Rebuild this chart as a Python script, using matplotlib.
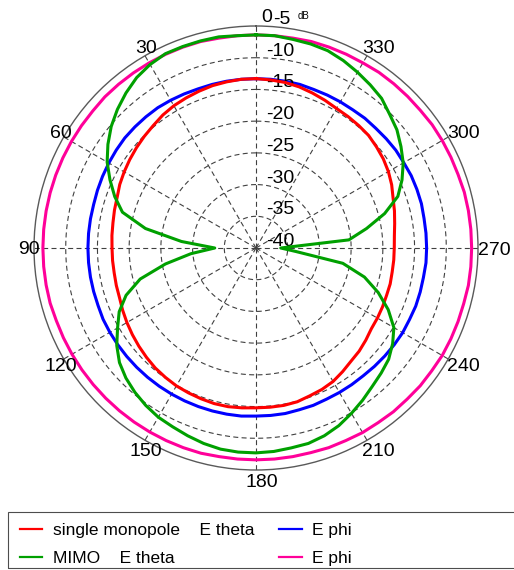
import numpy as np
import matplotlib
matplotlib.use('Agg')
import matplotlib.pyplot as plt
from matplotlib.transforms import offset_copy
from matplotlib.patches import Rectangle

plt.rcParams['font.family'] = ['Liberation Sans', 'DejaVu Sans']

# angles (deg), measured from the top, counter-clockwise, every 5 deg
ang = np.arange(0, 360, 5)

# single monopole, E theta (dB)
mono_theta = [-13.3, -13.3, -13.4, -13.5, -13.7, -13.9, -14.1, -14.4, -14.8, -15.1,
              -15.4, -15.7, -16.0, -16.3, -16.7, -16.9, -17.1, -17.2, -17.3, -17.3,
              -17.3, -17.2, -17.1, -16.8, -16.5, -16.2, -15.9, -15.6, -15.3, -15.1,
              -14.9, -14.8, -14.7, -14.6, -14.6, -14.7, -14.8, -14.8, -14.8, -14.9,
              -15.2, -15.4, -15.7, -16.2, -16.7, -17.0, -17.4, -17.8, -17.9, -18.0,
              -18.1, -18.1, -18.2, -18.2, -18.2, -18.1, -17.8, -17.4, -17.0, -16.4,
              -15.9, -15.5, -15.2, -14.9, -14.8, -14.7, -14.6, -14.3, -14.0, -13.7,
              -13.5, -13.4]

# MIMO, E theta (dB)
mimo_theta = [-6.4, -6.4, -6.2, -6.2, -6.2, -6.2, -6.6, -7.2, -8.1, -9.1,
              -10.2, -11.5, -12.9, -14.6, -16.3, -18.2, -22.3, -28.2, -33.5, -29.7,
              -25.5, -21.1, -18.2, -16.2, -14.8, -13.2, -11.9, -11.0, -10.3, -9.7,
              -9.2, -8.9, -8.5, -8.1, -7.8, -7.7, -7.7, -7.8, -8.0, -8.1,
              -8.5, -9.1, -9.9, -10.7, -11.5, -12.1, -12.7, -13.7, -14.9, -17.0,
              -19.5, -22.3, -26.1, -33.7, -36.1, -25.3, -22.3, -19.0, -16.2, -14.6,
              -13.2, -12.1, -11.0, -10.2, -9.2, -8.6, -8.0, -7.4, -6.9, -6.7,
              -6.6, -6.4]

# single monopole, E phi (dB)
mono_phi = [-13.3, -13.3, -13.3, -13.3, -13.3, -13.2, -13.1, -13.0, -13.0, -13.0,
            -13.0, -13.1, -13.2, -13.3, -13.4, -13.5, -13.5, -13.5, -13.5, -13.5,
            -13.5, -13.5, -13.5, -13.4, -13.4, -13.4, -13.4, -13.4, -13.4, -13.4,
            -13.4, -13.4, -13.4, -13.4, -13.4, -13.4, -13.5, -13.5, -13.5, -13.6,
            -13.6, -13.7, -13.7, -13.7, -13.7, -13.6, -13.5, -13.4, -13.3, -13.3,
            -13.2, -13.2, -13.2, -13.1, -13.1, -13.1, -13.1, -13.0, -13.0, -13.0,
            -13.1, -13.1, -13.2, -13.3, -13.3, -13.4, -13.4, -13.4, -13.4, -13.3,
            -13.3, -13.3]

# MIMO, E phi (dB)
mimo_phi = [-6.4, -6.4, -6.4, -6.3, -6.3, -6.3, -6.3, -6.3, -6.3, -6.3,
            -6.4, -6.4, -6.4, -6.4, -6.4, -6.4, -6.4, -6.4, -6.4, -6.4,
            -6.4, -6.4, -6.5, -6.5, -6.5, -6.5, -6.5, -6.5, -6.5, -6.5,
            -6.5, -6.5, -6.5, -6.5, -6.6, -6.6, -6.6, -6.6, -6.6, -6.6,
            -6.5, -6.5, -6.4, -6.4, -6.3, -6.3, -6.2, -6.2, -6.1, -6.1,
            -6.1, -6.1, -6.0, -6.0, -6.0, -6.0, -6.0, -6.0, -6.1, -6.1,
            -6.1, -6.1, -6.2, -6.2, -6.2, -6.2, -6.3, -6.3, -6.3, -6.3,
            -6.4, -6.4]

labels = ['single monopole    E theta', 'MIMO    E theta', 'E phi', 'E phi']
colors = ['#ff0000', '#00a000', '#0000ff', '#ff0099']

r_min, r_max = -40, -5
rings = [-35, -30, -25, -20, -15, -10]
ring_labels = [-40, -35, -30, -25, -20, -15, -10, -5]
angle_ticks = list(range(0, 360, 30))

fig = plt.figure(figsize=(5.14, 5.70), dpi=100)
ax = fig.add_axes([34 / 514, 100 / 570, 444 / 514, 444 / 570], projection='polar')
ax.set_theta_zero_location('N')
ax.set_theta_direction(1)
ax.set_ylim(r_min, r_max)
ax.grid(False)
ax.set_yticks([])
ax.set_xticks(np.deg2rad(angle_ticks))
ax.set_xticklabels([])
ax.tick_params(axis='x', direction='in', length=4, width=0.8, colors='0.3')
ax.spines['polar'].set_color('0.35')
ax.spines['polar'].set_linewidth(1.0)

# dashed grid
t = np.linspace(0, 2 * np.pi, 361)
for lv in rings:
    ax.plot(t, np.full_like(t, lv), color='0.25', lw=0.8, dashes=(4.5, 3))
for a in angle_ticks:
    th = np.deg2rad(a)
    ax.plot([th, th], [r_min, r_max], color='0.25', lw=0.8, dashes=(4.5, 3))


def closed(v):
    a = np.deg2rad(np.append(ang, ang[0]))
    return a, np.append(v, v[0])


h3, = ax.plot(*closed(mono_phi), color=colors[2], lw=2.2, zorder=3)
h4, = ax.plot(*closed(mimo_phi), color=colors[3], lw=2.2, zorder=3)
h1, = ax.plot(*closed(mono_theta), color=colors[0], lw=2.2, zorder=4)
h2, = ax.plot(*closed(mimo_theta), color=colors[1], lw=2.2, zorder=4)

# angle labels
for a in angle_ticks:
    dx = 11 if a == 0 else 6
    tr = offset_copy(ax.transData, fig=fig, x=dx, y=-2, units='dots')
    ax.text(np.deg2rad(a), -3.3, str(a), transform=tr, ha='center', va='center', fontsize=14)

# radial labels
for lv in ring_labels:
    dx = 17 if lv == -5 else 10
    tr = offset_copy(ax.transData, fig=fig, x=dx, y=-2, units='dots')
    ax.text(0, lv, str(lv), transform=tr, ha='left', va='bottom', fontsize=14)
tr = offset_copy(ax.transData, fig=fig, x=42, y=5, units='dots')
ax.text(0, r_max, 'dB', transform=tr, ha='left', va='bottom', fontsize=7)

leg = fig.legend(handles=[h1, h2, h3, h4], labels=labels, ncol=2, loc='upper left',
                 bbox_to_anchor=(20 / 514, 1 - 523 / 570), frameon=False, fontsize=12.5,
                 handlelength=1.27, handletextpad=0.63, columnspacing=1.44,
                 labelspacing=0.72, borderpad=0, borderaxespad=0)
for h in leg.legend_handles:
    h.set_linewidth(1.6)
fig.patches.append(Rectangle((8 / 514, 2 / 570), 1.0, 56 / 570, transform=fig.transFigure,
                             fill=False, ec='0.3', lw=0.8))

fig.savefig('out.png', dpi=100)
